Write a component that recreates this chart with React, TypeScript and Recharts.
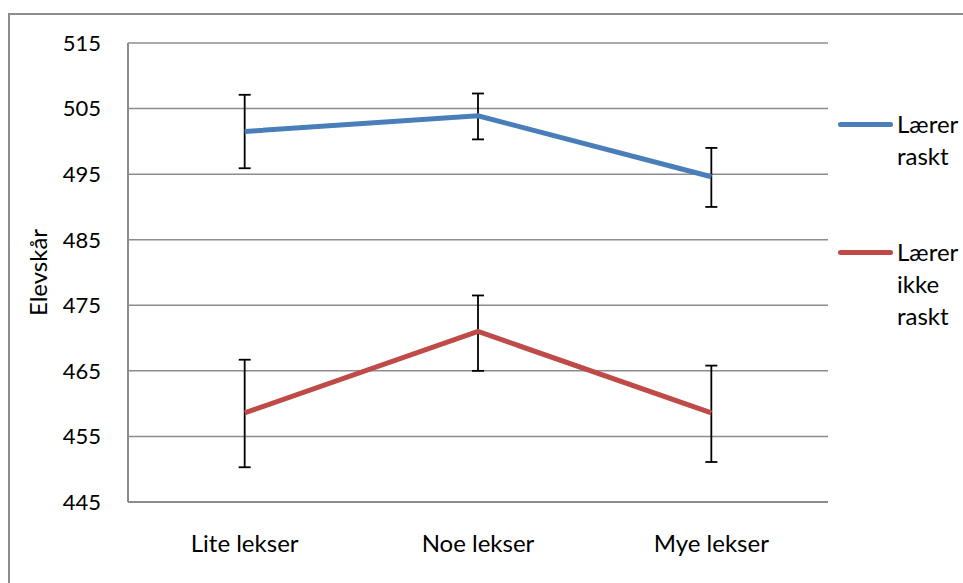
import React from 'react';
import { LineChart, Line, XAxis, YAxis, CartesianGrid, ErrorBar, Legend } from 'recharts';

const categories = ['Lite lekser', 'Noe lekser', 'Mye lekser'];
const yTicks = [445, 455, 465, 475, 485, 495, 505, 515];

const fastNames = 'Lærer raskt';
const fastValues = [501.5, 503.9, 494.6];
const fastUpper = [507.1, 507.3, 499.0];
const fastLower = [495.9, 500.3, 490.0];

const slowNames = 'Lærer ikke raskt';
const slowValues = [458.6, 471.0, 458.6];
const slowUpper = [466.7, 476.5, 465.8];
const slowLower = [450.3, 465.0, 451.1];

const BLUE = '#4a7ebb';
const RED = '#be4b48';
const GRID = '#8c8c8c';
const FONT = 'Lato, "Open Sans", sans-serif';

const data = categories.map((c, i) => ({
  cat: c,
  fast: fastValues[i],
  fastErr: [fastValues[i] - fastLower[i], fastUpper[i] - fastValues[i]],
  slow: slowValues[i],
  slowErr: [slowValues[i] - slowLower[i], slowUpper[i] - slowValues[i]],
}));

const legendItems = [
  { name: fastNames, color: BLUE },
  { name: slowNames, color: RED },
];

const renderLegend = () => (
  <div style={{ fontFamily: FONT, fontSize: 24, lineHeight: '32px', color: '#000' }}>
    {legendItems.map((it, idx) => (
      <div key={it.name} style={{ display: 'flex', alignItems: 'flex-start', marginTop: idx === 0 ? 0 : 64 }}>
        <div style={{ width: 55, height: 32, position: 'relative', marginRight: 4 }}>
          <div style={{ position: 'absolute', left: 0, right: 0, top: 14, height: 5, borderRadius: 3, background: it.color }} />
        </div>
        <div>
          {it.name.split(' ').map((w, j) => (
            <div key={j}>{w}</div>
          ))}
        </div>
      </div>
    ))}
  </div>
);

const YLabel = (props: any) => {
  const vb = props.viewBox || { x: 0, y: 0, width: 0, height: 0 };
  const cx = vb.x + 27;
  const cy = vb.y + vb.height / 2;
  return (
    <text x={cx} y={cy} transform={`rotate(-90, ${cx}, ${cy})`} textAnchor="middle" dominantBaseline="central"
      fontFamily={FONT} fontSize={24} fill="#000">
      Elevskår
    </text>
  );
};

export default function App() {
  return (
    <div style={{ position: 'fixed', left: 8, top: 13, width: 955, height: 570, borderLeft: `2px solid ${GRID}`, borderTop: `2px solid ${GRID}`, background: '#fff' }}>
      <LineChart width={953} height={568} data={data} margin={{ top: 28, right: 135, bottom: 0, left: 0 }}>
        <CartesianGrid vertical={false} stroke={GRID} strokeWidth={1.5} />
        <XAxis dataKey="cat" scale="band" height={81} tickLine={false} tickSize={0} tickMargin={33}
          axisLine={{ stroke: GRID, strokeWidth: 2 }}
          tick={{ fill: '#000', fontFamily: FONT, fontSize: 24 }} />
        <YAxis domain={[445, 515]} ticks={yTicks} width={118} tickLine={false} tickSize={0} tickMargin={27}
          axisLine={{ stroke: GRID, strokeWidth: 2 }} interval={0}
          tick={{ fill: '#000', fontFamily: FONT, fontSize: 22 }}
          label={<YLabel />} />
        <Legend layout="horizontal" verticalAlign="middle" align="center" content={renderLegend}
          wrapperStyle={{ left: 828, top: 93, width: 125, bottom: 'auto' }} />
        <Line dataKey="fast" name={fastNames} stroke={BLUE} strokeWidth={5} dot={false} isAnimationActive={false}>
          <ErrorBar dataKey="fastErr" direction="y" width={6} stroke="#000" strokeWidth={1.8} isAnimationActive={false} />
        </Line>
        <Line dataKey="slow" name={slowNames} stroke={RED} strokeWidth={5} dot={false} isAnimationActive={false}>
          <ErrorBar dataKey="slowErr" direction="y" width={6} stroke="#000" strokeWidth={1.8} isAnimationActive={false} />
        </Line>
      </LineChart>
    </div>
  );
}
